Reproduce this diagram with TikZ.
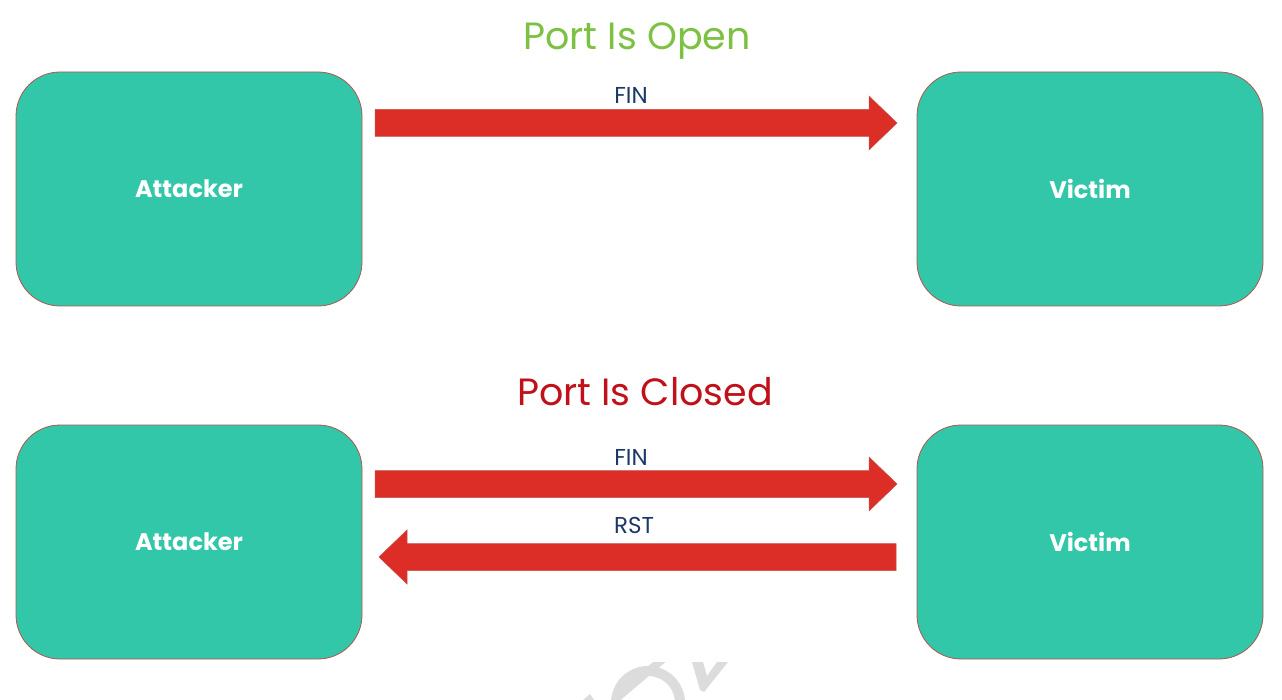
\documentclass[tikz,border=0pt]{standalone}
\usepackage{fontspec}
\setmainfont{Poppins}
\usetikzlibrary{calc}
\definecolor{boxfill}{HTML}{33C7A9}
\definecolor{boxedge}{HTML}{B0564E}
\definecolor{arrowfill}{HTML}{DD2D27}
\definecolor{arrowedge}{HTML}{C0504D}
\definecolor{titlegreen}{HTML}{7CC142}
\definecolor{titlered}{HTML}{C0111A}
\definecolor{lblblue}{HTML}{1C3768}
\definecolor{wmgray}{HTML}{DCDCDC}
\tikzset{
  hostbox/.style={draw=boxedge, line width=0.8pt, fill=boxfill, rounded corners=44pt,
    minimum width=346pt, minimum height=234pt, inner sep=0pt,
    text=white, font=\fontsize{24}{27}\selectfont\bfseries},
  title/.style={font=\fontsize{38}{42}\selectfont, inner sep=0pt},
  msg/.style={text=lblblue, font=\fontsize{23}{26}\selectfont, inner sep=0pt},
  blockarrow/.style={fill=arrowfill, draw=arrowedge, line width=0.5pt},
  wmark/.style={draw=wmgray, line width=10pt}
}
\begin{document}
\begin{tikzpicture}[x=1pt,y=-1pt]
\useasboundingbox (0,0) rectangle (1282,700);
% top
\node[title, text=titlegreen] (t1) at (637,41) {Port Is Open};
\node[hostbox] (a1) at (189,189) {Attacker};
\node[hostbox] (v1) at (1090,189) {Victim};
\fill[blockarrow] (375,109.5) -- (869,109.5) -- (869,96) -- (897,123) -- (869,150) -- (869,136.5) -- (375,136.5) -- cycle;
\node[msg] (l1) at (631,95) {FIN};
% bottom
\node[title, text=titlered] (t2) at (645,392) {Port Is Closed};
\node[hostbox] (a2) at (189,542) {Attacker};
\node[hostbox] (v2) at (1090,542) {Victim};
\fill[blockarrow] (375,470.5) -- (869,470.5) -- (869,457) -- (897,484) -- (869,511) -- (869,497.5) -- (375,497.5) -- cycle;
\node[msg] (l2) at (631,457) {FIN};
\fill[blockarrow] (896,543.5) -- (407,543.5) -- (407,530) -- (379,557) -- (407,584) -- (407,570.5) -- (896,570.5) -- cycle;
\node[msg] (l3) at (634,525) {RST};
% watermark fragments
\begin{scope}
\clip (560,662) rectangle (760,700);
\draw[wmark] (648,703) circle (32);
\draw[draw=wmgray, line width=8pt] (618,697) -- (664,658);
\fill[wmgray] (692,662) -- (703,662) -- (707,676) -- (717,662) -- (728,662) -- (704,692) -- (700,690) -- cycle;
\fill[wmgray] (583,700) -- (590,694) -- (594,700) -- cycle;
\end{scope}
\end{tikzpicture}
\end{document}
